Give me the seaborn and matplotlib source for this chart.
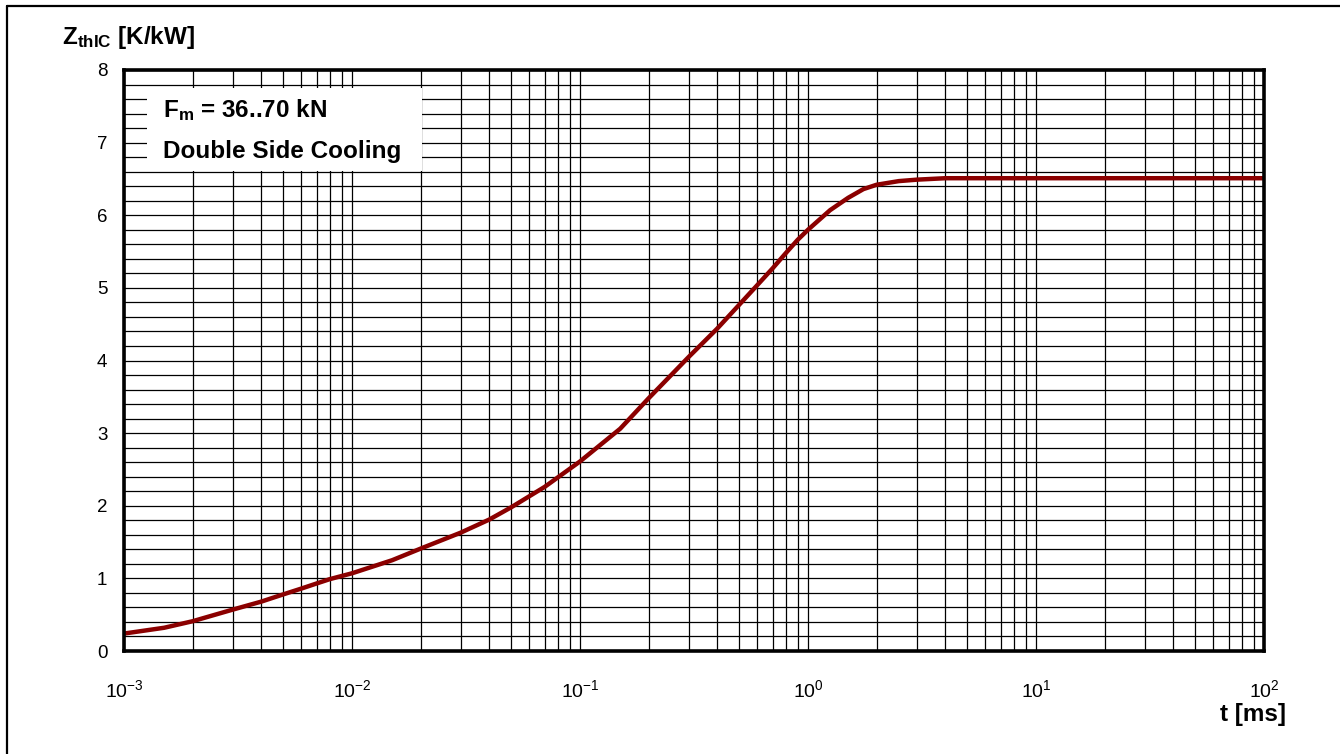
import matplotlib
matplotlib.use("Agg")
import matplotlib.pyplot as plt
import seaborn as sns
import pandas as pd
from matplotlib.ticker import FixedLocator, LogLocator, MultipleLocator, NullFormatter, FixedFormatter
from matplotlib.lines import Line2D
from matplotlib.patches import Rectangle

# ---- data ----
t_ms = [1e-3, 1.5e-3, 2e-3, 3e-3, 4e-3, 5e-3, 6e-3, 7e-3, 8e-3, 1e-2,
        1.5e-2, 2e-2, 3e-2, 4e-2, 5e-2, 7e-2, 1e-1, 1.5e-1, 2e-1, 3e-1,
        4e-1, 5e-1, 6e-1, 7e-1, 8e-1, 9e-1, 1.0, 1.25, 1.5, 1.75, 2.0,
        2.5, 3.0, 4.0, 6.0, 10.0, 100.0]
zth = [0.24, 0.32, 0.41, 0.57, 0.68, 0.78, 0.86, 0.93, 0.99, 1.07,
       1.25, 1.41, 1.63, 1.81, 1.98, 2.26, 2.61, 3.06, 3.48, 4.05,
       4.44, 4.77, 5.04, 5.27, 5.48, 5.66, 5.80, 6.07, 6.24, 6.36, 6.42,
       6.47, 6.49, 6.51, 6.51, 6.51, 6.51]
xticks = [1e-3, 1e-2, 1e-1, 1e0, 1e1, 1e2]
xticklabels = [r"$10^{-3}$", r"$10^{-2}$", r"$10^{-1}$", r"$10^{0}$", r"$10^{1}$", r"$10^{2}$"]
yticks = [0, 1, 2, 3, 4, 5, 6, 7, 8]
ylabel_text = r"$\mathbf{Z}_\mathbf{thIC}$ [K/kW]"
xlabel_text = "t [ms]"
note_line1 = r"$\mathbf{F}_\mathbf{m}$ = 36..70 kN"
note_line2 = "Double Side Cooling"

df = pd.DataFrame({"t": t_ms, "z": zth})

sns.set_theme(style="white")
plt.rcParams["font.family"] = ["Liberation Sans", "DejaVu Sans"]
plt.rcParams["mathtext.fontset"] = "custom"
plt.rcParams["mathtext.rm"] = "Liberation Sans"
plt.rcParams["mathtext.it"] = "Liberation Sans:italic"
plt.rcParams["mathtext.bf"] = "Liberation Sans:bold"
plt.rcParams["text.color"] = "black"
plt.rcParams["xtick.color"] = "black"
plt.rcParams["ytick.color"] = "black"

fig = plt.figure(figsize=(13.4, 7.54), dpi=100)
W, H = 1340, 754
ax_l, ax_r, ax_t, ax_b = 124, 1264, 70, 651
ax = fig.add_axes([ax_l / W, 1 - ax_b / H, (ax_r - ax_l) / W, (ax_b - ax_t) / H])

sns.lineplot(data=df, x="t", y="z", ax=ax, color="#8b0000", linewidth=3.2,
             zorder=5, legend=False)

ax.set_xscale("log")
ax.set_xlim(1e-3, 1e2)
ax.set_ylim(0, 8)
ax.xaxis.set_major_locator(FixedLocator(xticks))
ax.xaxis.set_major_formatter(FixedFormatter(xticklabels))
ax.xaxis.set_minor_locator(LogLocator(base=10, subs=[2, 3, 4, 5, 6, 7, 8, 9], numticks=20))
ax.xaxis.set_minor_formatter(NullFormatter())
ax.yaxis.set_major_locator(FixedLocator(yticks))
ax.yaxis.set_minor_locator(MultipleLocator(0.2))
ax.set_xlabel("")
ax.set_ylabel("")

ax.grid(which="both", color="black", linewidth=0.9, zorder=1)
ax.set_axisbelow(True)
ax.tick_params(axis="both", which="both", length=0, labelcolor="black")
ax.tick_params(axis="x", pad=20, labelsize=14)
ax.tick_params(axis="y", pad=12, labelsize=13.5)
for s in ax.spines.values():
    s.set_visible(True)
    s.set_color("black")
    s.set_linewidth(2.6)
    s.set_zorder(6)

# white note box
bx0, bx1, by0, by1 = 147, 422, 88, 171
ax.add_patch(Rectangle(((bx0 - ax_l) / (ax_r - ax_l), (ax_b - by1) / (ax_b - ax_t)),
                       (bx1 - bx0) / (ax_r - ax_l), (by1 - by0) / (ax_b - ax_t),
                       transform=ax.transAxes, facecolor="white", edgecolor="none",
                       zorder=3))
tx = (163 - ax_l) / (ax_r - ax_l)
ax.text(tx, (ax_b - 117) / (ax_b - ax_t), note_line1, transform=ax.transAxes,
        fontsize=17.5, fontweight="bold", va="baseline", ha="left", zorder=4)
ax.text(tx, (ax_b - 158) / (ax_b - ax_t), note_line2, transform=ax.transAxes,
        fontsize=17.5, fontweight="bold", va="baseline", ha="left", zorder=4)

# axis titles
fig.text(62 / W, 1 - 44 / H, ylabel_text, fontsize=17.5, fontweight="bold",
         ha="left", va="baseline")
fig.text(1286 / W, 1 - 721 / H, xlabel_text, fontsize=17.5, fontweight="bold",
         ha="right", va="baseline")

# figure border (top and left)
fig.add_artist(Line2D([7 / W, 1.0], [1 - 6 / H, 1 - 6 / H], color="black", lw=1.6,
                      transform=fig.transFigure))
fig.add_artist(Line2D([7 / W, 7 / W], [0.0, 1 - 6 / H], color="black", lw=1.6,
                      transform=fig.transFigure))

fig.savefig("out.png", dpi=100, facecolor="white")
